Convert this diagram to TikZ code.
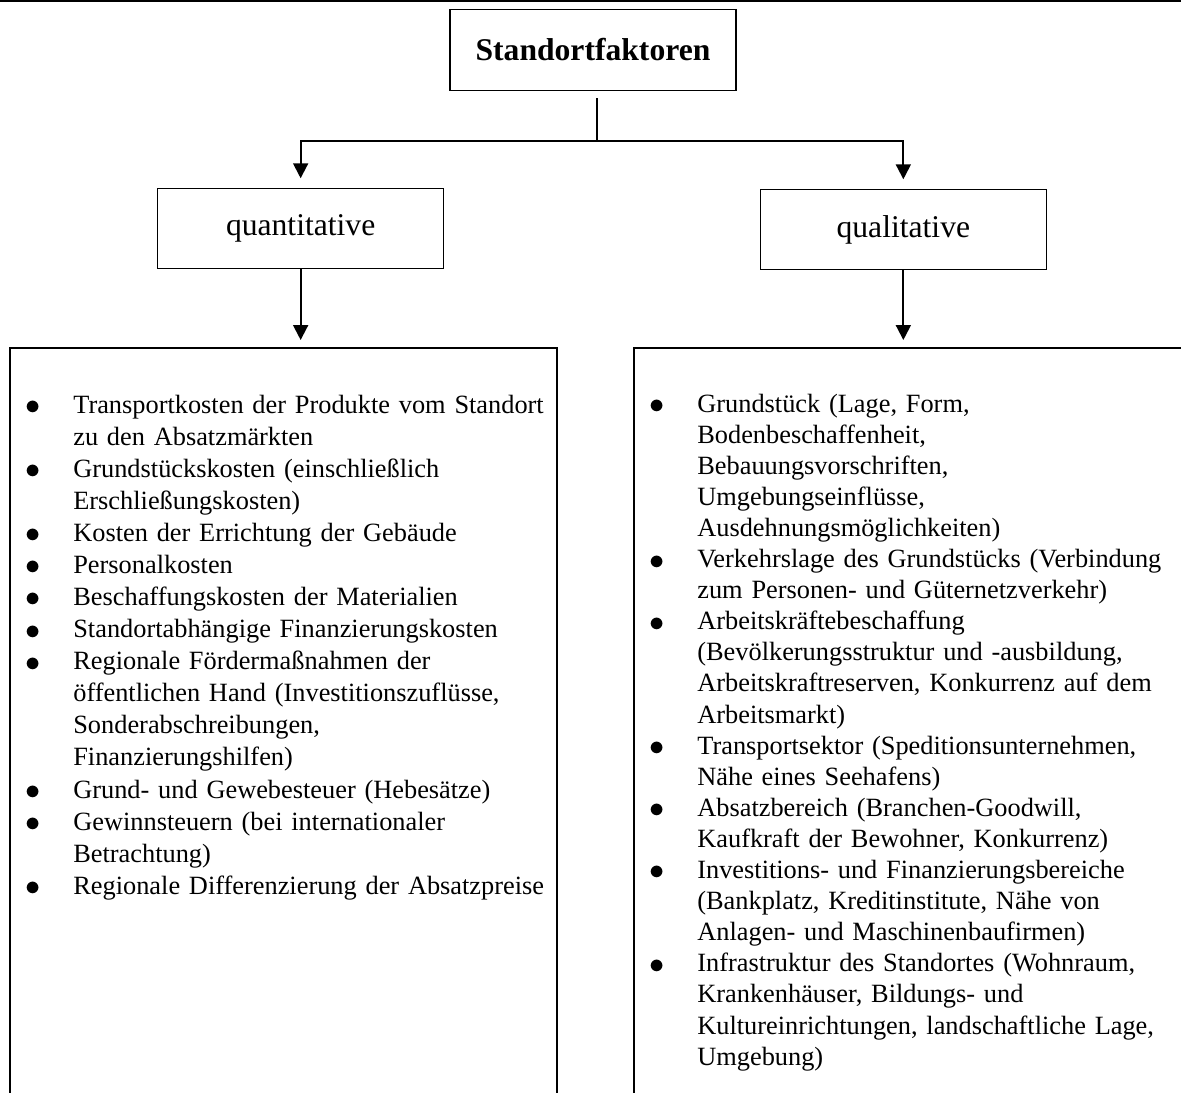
\documentclass[tikz,border=0pt]{standalone}
\usepackage{fontspec}
\setmainfont{Liberation Serif}
\usepackage{enumitem}
\usetikzlibrary{arrows.meta, positioning, calc}

\newcommand{\dotmark}{\raisebox{-0.8pt}{\fontsize{19}{19}\selectfont$\bullet$}}
\setlist[itemize]{label=\dotmark, leftmargin=0.95cm, labelwidth=0.4cm,
                  labelsep=0.55cm, align=left, itemsep=0pt, parsep=0pt,
                  topsep=0pt, partopsep=0pt}
\newcommand{\headfont}{\fontsize{18}{21}\selectfont}

\tikzset{
  rootbox/.style={rectangle, draw, line width=0.9pt, minimum width=5.72cm,
                  minimum height=1.62cm, font=\headfont\bfseries},
  kindbox/.style={rectangle, draw, line width=0.7pt, minimum width=5.72cm,
                  minimum height=1.6cm, font=\headfont},
  listbox/.style={rectangle, draw, line width=1.1pt, anchor=north west,
                  minimum height=16cm},
  listtxt/.style={anchor=base west, inner sep=0pt, text width=10.8cm,
                  align=left, font=\fontsize{15}{#1}\selectfont},
  link/.style={line width=1.1pt},
  arrow/.style={link, -{Triangle[length=0.3cm, width=0.3cm]}},
}

\begin{document}
\begin{tikzpicture}[x=0.02cm, y=-0.02cm]
  \clip (0,0) rectangle (1181,1093);

  %% rule at the top of the page
  \draw[line width=1.1pt] (0,1) -- (1181,1);

  %% ── HEAD ───────────────────────────────────────────────────────────────
  \node[rootbox] (root) at (593,50) {Standortfaktoren};
  \node[kindbox, below left=1.94cm and 0.1cm of root.south west, anchor=north east]
        (quant) {quantitative};
  \node[kindbox, below right=1.96cm and 0.46cm of root.south east, anchor=north west]
        (qual)  {qualitative};
  \coordinate (fork) at (597,141);

  %% ── LIST BOXES ─────────────────────────────────────────────────────────
  \node[listbox, minimum width=10.93cm] (quantbox) at (9.3,347) {};
  \node[listbox, minimum width=12cm]    (qualbox)  at (633,347) {};

  \node[listtxt=18.26pt] (quantlist) at ($(quantbox.north west)+(16.2,34)$) {%
    \begin{itemize}
      \item Transportkosten der Produkte vom Standort\\ zu den Absatzmärkten
      \item Grundstückskosten (einschließlich\\ Erschließungskosten)
      \item Kosten der Errichtung der Gebäude
      \item Personalkosten
      \item Beschaffungskosten der Materialien
      \item Standortabhängige Finanzierungskosten
      \item Regionale Fördermaßnahmen der\\ öffentlichen Hand (Investitionszuflüsse,\\
            Sonderabschreibungen,\\ Finanzierungshilfen)
      \item Grund- und Gewebesteuer (Hebesätze)
      \item Gewinnsteuern (bei internationaler\\ Betrachtung)
      \item Regionale Differenzierung der Absatzpreise
    \end{itemize}};

  \node[listtxt=17.7pt] (quallist) at ($(qualbox.north west)+(16.5,34)$) {%
    \begin{itemize}
      \item Grundstück (Lage, Form,\\ Bodenbeschaffenheit,\\ Bebauungsvorschriften,\\
            Umgebungseinflüsse,\\ Ausdehnungsmöglichkeiten)
      \item Verkehrslage des Grundstücks (Verbindung\\ zum Personen- und Güternetzverkehr)
      \item Arbeitskräftebeschaffung\\ (Bevölkerungsstruktur und -ausbildung,\\
            Arbeitskraftreserven, Konkurrenz auf dem\\ Arbeitsmarkt)
      \item Transportsektor (Speditionsunternehmen,\\ Nähe eines Seehafens)
      \item Absatzbereich (Branchen-Goodwill,\\ Kaufkraft der Bewohner, Konkurrenz)
      \item Investitions- und Finanzierungsbereiche\\ (Bankplatz, Kreditinstitute, Nähe von\\
            Anlagen- und Maschinenbaufirmen)
      \item Infrastruktur des Standortes (Wohnraum,\\ Krankenhäuser, Bildungs- und\\
            Kultureinrichtungen, landschaftliche Lage,\\ Umgebung)
    \end{itemize}};

  %% ── CONNECTORS ─────────────────────────────────────────────────────────
  \draw[link, shorten <=4pt] (root.south -| fork) -- (fork);
  \draw[arrow, shorten >=0.2cm] (fork) -| (quant.north);
  \draw[arrow, shorten >=0.2cm] (fork) -| (qual.north);
  \draw[arrow, shorten >=0.14cm] (quant.south) -- (quant.south |- quantbox.north);
  \draw[arrow, shorten >=0.14cm] (qual.south)  -- (qual.south |- qualbox.north);

\end{tikzpicture}
\end{document}
